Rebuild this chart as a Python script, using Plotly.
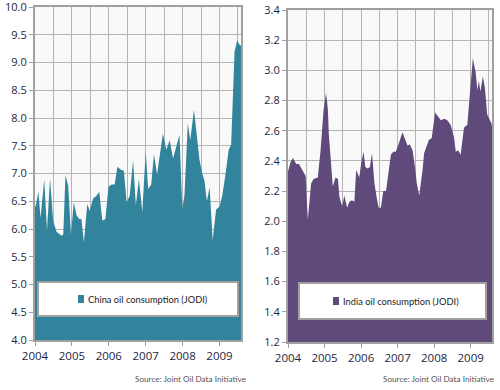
import plotly.graph_objects as go

# month offsets from Jan 2004 and values
china_x = [0.0, 0.3, 1.1, 1.8, 3.0, 3.9, 4.9, 5.9, 7.0, 7.9, 8.6, 9.2, 9.9, 10.8, 11.7, 12.6, 13.5, 14.4,
           15.1, 15.9, 17.0, 17.8, 18.9, 20.0, 20.9, 21.9, 22.9, 23.9, 24.9, 25.9, 26.8, 27.8, 28.9,
           29.8, 30.8, 31.9, 32.8, 33.8, 34.9, 36.0, 36.8, 37.8, 38.7, 39.7, 40.5, 41.6, 42.7, 43.8,
           44.9, 45.9, 47.0, 47.9, 48.6, 49.7, 50.5, 51.7, 52.4, 53.5, 54.4, 55.1, 55.9, 56.8, 57.8,
           58.9, 60.0, 60.9, 62.0, 63.0, 63.8, 64.9, 65.8, 66.5, 67.0]
china_y = [6.40, 6.43, 6.67, 6.20, 6.89, 5.98, 6.91, 6.15, 5.95, 5.90, 5.88, 5.90, 6.97, 6.78, 5.90, 6.48,
           6.25, 6.18, 6.18, 5.76, 6.45, 6.33, 6.55, 6.60, 6.67, 6.15, 6.18, 6.76, 6.80, 6.80, 7.12,
           7.07, 7.05, 6.48, 6.60, 7.24, 6.43, 6.90, 6.30, 7.40, 6.72, 6.80, 7.35, 6.98, 7.30, 7.72,
           7.43, 7.60, 7.27, 7.50, 7.70, 6.37, 6.60, 7.90, 7.60, 8.15, 7.80, 7.25, 7.00, 6.88, 6.50,
           6.75, 5.80, 6.35, 6.40, 6.60, 7.00, 7.43, 7.52, 9.20, 9.40, 9.32, 9.30]

india_x = [0.0, 0.2, 0.8, 1.6, 2.7, 3.6, 4.4, 5.2, 5.8, 6.5, 7.6, 8.4, 9.3, 9.8, 10.7, 11.7, 12.5, 13.1,
           13.4, 14.2, 14.7, 15.6, 16.4, 16.9, 17.8, 18.5, 19.4, 20.2, 21.0, 21.8, 22.4, 23.4, 24.0,
           24.8, 25.4, 26.2, 26.9, 27.6, 28.4, 29.1, 29.8, 30.5, 31.3, 32.2, 33.0, 33.8, 34.6, 35.4,
           36.3, 37.1, 37.6, 38.5, 39.3, 40.0, 40.9, 41.7, 42.3, 43.1, 43.6, 44.2, 44.7, 45.5, 46.3,
           47.2, 48.3, 49.1, 50.2, 51.3, 52.3, 53.4, 54.0, 54.5, 55.1, 55.9, 56.7, 57.8, 58.9, 60.0,
           60.7, 61.6, 62.2, 62.7, 63.2, 64.0, 64.7, 65.4, 66.2, 66.8, 67.0]
india_y = [2.33, 2.35, 2.39, 2.42, 2.38, 2.38, 2.35, 2.32, 2.30, 2.01, 2.25, 2.28, 2.29, 2.29, 2.47, 2.74,
           2.85, 2.74, 2.58, 2.38, 2.23, 2.29, 2.28, 2.16, 2.10, 2.17, 2.09, 2.13, 2.14, 2.13, 2.34,
           2.29, 2.38, 2.46, 2.36, 2.35, 2.36, 2.45, 2.25, 2.16, 2.09, 2.09, 2.20, 2.20, 2.32, 2.44,
           2.46, 2.46, 2.51, 2.57, 2.59, 2.54, 2.50, 2.51, 2.47, 2.36, 2.25, 2.17, 2.24, 2.34, 2.45,
           2.49, 2.54, 2.55, 2.72, 2.70, 2.67, 2.68, 2.67, 2.64, 2.60, 2.56, 2.46, 2.47, 2.44, 2.62,
           2.64, 2.90, 3.08, 2.99, 2.87, 2.93, 2.86, 2.96, 2.88, 2.71, 2.68, 2.65, 2.63]

year_ticks = [0, 12, 24, 36, 48, 60]
year_labels = ["2004", "2005", "2006", "2007", "2008", "2009"]
china_name = "China oil consumption (JODI)"
india_name = "India oil consumption (JODI)"
source_text = "Source: Joint Oil Data Initiative"

TEAL = "#31849b"
PURPLE = "#5f4a7b"
GRID = "#b4b4b4"
FRAME = "#a0a0a0"
TXT = "#1f2540"

fig = go.Figure()
fig.add_trace(go.Scatter(x=china_x, y=china_y, fill="tozeroy", mode="lines",
                         line=dict(width=0, color=TEAL), fillcolor=TEAL,
                         xaxis="x", yaxis="y", showlegend=False, hoverinfo="skip"))
fig.add_trace(go.Scatter(x=india_x, y=india_y, fill="tozeroy", mode="lines",
                         line=dict(width=0, color=PURPLE), fillcolor=PURPLE,
                         xaxis="x2", yaxis="y2", showlegend=False, hoverinfo="skip"))

def xaxis(dom, anchor):
    return dict(domain=dom, anchor=anchor, range=[0, 67], tickvals=year_ticks, ticktext=year_labels,
                ticks="outside", ticklen=4, tickcolor=FRAME, showgrid=True, gridcolor=GRID, gridwidth=1,
                minor=dict(tick0=0, dtick=6, showgrid=True, gridcolor=GRID, gridwidth=1, ticks=""),
                showline=True, linecolor=FRAME, linewidth=2, mirror=True, zeroline=False,
                automargin=False, ticklabeloverflow="allow",
                tickfont=dict(size=11.5, color=TXT), fixedrange=True)

def yaxis(dom, anchor, rng, dt):
    return dict(domain=dom, anchor=anchor, range=rng, dtick=dt, tick0=0, tickformat=".1f",
                ticks="outside", ticklen=4, tickcolor=FRAME, showgrid=True, gridcolor=GRID, gridwidth=1,
                showline=True, linecolor=FRAME, linewidth=2, mirror=True, zeroline=False,
                automargin=False, ticklabeloverflow="allow",
                tickfont=dict(size=11, color=TXT), fixedrange=True)

W, H = 500, 390
fig.update_layout(
    width=W, height=H, margin=dict(l=0, r=0, t=0, b=0, autoexpand=False),
    paper_bgcolor="white", plot_bgcolor="#f9f9f9",
    font=dict(family="Open Sans, sans-serif"),
    xaxis=xaxis([35 / W, 241 / W], "y"),
    yaxis=yaxis([1 - 340 / H, 1 - 7 / H], "x", [4, 10], 0.5),
    xaxis2=xaxis([288 / W, 492 / W], "y2"),
    yaxis2=yaxis([1 - 342 / H, 1 - 10 / H], "x2", [1.2, 3.4], 0.2),
)

def px(x):
    return x / W

def py(y):
    return 1 - y / H

shapes = []
annotations = []
for (x0, x1, y0, y1, col, name, sq) in [(38, 238, 282, 316, TEAL, china_name, 78),
                                         (299, 486, 283, 319, PURPLE, india_name, 333)]:
    shapes.append(dict(type="rect", xref="paper", yref="paper", x0=px(x0), x1=px(x1), y0=py(y1), y1=py(y0),
                       fillcolor="white", line=dict(color=FRAME, width=2), layer="above"))
    yc = (y0 + y1) / 2
    shapes.append(dict(type="rect", xref="paper", yref="paper", x0=px(sq), x1=px(sq + 6),
                       y0=py(yc + 4), y1=py(yc - 4), fillcolor=col, line=dict(width=0), layer="above"))
    annotations.append(dict(text=name, xref="paper", yref="paper", x=px(sq + 8), y=py(yc),
                            xanchor="left", yanchor="middle", showarrow=False,
                            font=dict(family="Lato, sans-serif", size=9.3, color="#222")))

for xr in [248, 496]:
    annotations.append(dict(text=source_text, xref="paper", yref="paper", x=px(xr), y=py(379),
                            xanchor="right", yanchor="middle", showarrow=False,
                            font=dict(family="Lato, sans-serif", size=8.2, color="#555")))

fig.update_layout(shapes=shapes, annotations=annotations)
fig.write_html("out.html", config={"displayModeBar": False},
               post_script="document.body.style.margin='0';document.body.style.overflow='hidden';")
